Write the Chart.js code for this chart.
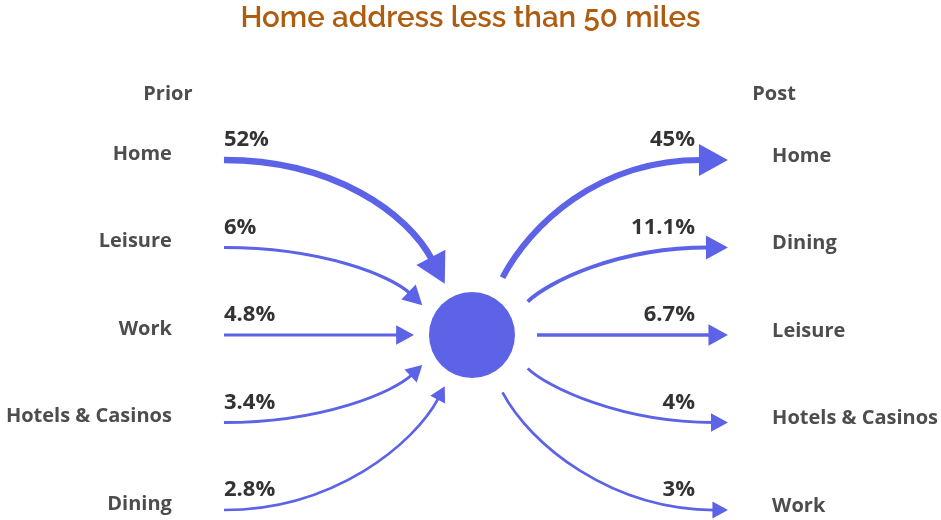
<!DOCTYPE html>
<html>
<head>
<meta charset="utf-8">
<script src="https://cdn.jsdelivr.net/npm/chart.js@4.4.0/dist/chart.umd.min.js"></script>
<style>
  html, body { margin: 0; padding: 0; background: #fff; }
  #wrap { width: 941px; height: 520px; }
</style>
</head>
<body>
<div id="wrap"><canvas id="flowChart"></canvas></div>
<script>
// Dados do gráfico
const chartTitle = 'Home address less than 50 miles';
const sideTitles = ['Prior', 'Post'];
const priorLabels = ['Home', 'Leisure', 'Work', 'Hotels & Casinos', 'Dining'];
const priorValues = [52, 6, 4.8, 3.4, 2.8];
const postLabels = ['Home', 'Dining', 'Leisure', 'Hotels & Casinos', 'Work'];
const postValues = [45, 11.1, 6.7, 4, 3];

const flowColor = '#5c63e6';
const labelColor = '#4d4d4d';
const valueColor = '#333333';

// Posições no eixo x (unidades do gráfico)
const hubX = 0;
const hubRow = 2;
const priorStartX = -1.0;
const postEndX = 1.032;
const labelGapX = 1.21;
const hubRadius = 43;
const tipRadius = 58;   // onde terminam as setas de entrada
const startRadius = 65; // onde começam as setas de saída
const fanStep = 31;     // graus entre as setas

function fmt(v) {
    return v + '%';
}

// direção de chegada/saída um pouco mais inclinada que a posição
function bend(th) {
    if (th === 0) return 0;
    return 0.6 * th + Math.sign(th) * 25 * Math.PI / 180;
}

function arrow(ctx, S, ds, T, de, a, b, value) {
    const lw = 1.5 + 0.7 * Math.sqrt(value);
    const headLen = 10 + 5 * Math.log(value);
    const headW = headLen * 1.1;
    const base = { x: T.x - de.x * headLen, y: T.y - de.y * headLen };
    const p1 = { x: S.x + ds.x * a, y: S.y + ds.y * a };
    const p2 = { x: base.x - de.x * b, y: base.y - de.y * b };
    ctx.save();
    ctx.strokeStyle = flowColor;
    ctx.fillStyle = flowColor;
    ctx.lineWidth = lw;
    ctx.lineCap = 'butt';
    ctx.beginPath();
    ctx.moveTo(S.x, S.y);
    ctx.bezierCurveTo(p1.x, p1.y, p2.x, p2.y, base.x + de.x * 2, base.y + de.y * 2);
    ctx.stroke();
    // ponta da seta
    const nx = -de.y, ny = de.x;
    ctx.beginPath();
    ctx.moveTo(T.x, T.y);
    ctx.lineTo(base.x + nx * headW / 2, base.y + ny * headW / 2);
    ctx.lineTo(base.x - nx * headW / 2, base.y - ny * headW / 2);
    ctx.closePath();
    ctx.fill();
    ctx.restore();
}

const flowPlugin = {
    id: 'flowArrows',
    afterDatasetsDraw(chart) {
        const ctx = chart.ctx;
        const xs = chart.scales.x;
        const ys = chart.scales.y;
        const hub = { x: xs.getPixelForValue(hubX), y: ys.getPixelForValue(hubRow) };
        const rowH = Math.abs(ys.getPixelForValue(1) - ys.getPixelForValue(0));

        // cabeçalhos
        ctx.save();
        ctx.font = 'bold 20px "Open Sans"';
        ctx.fillStyle = labelColor;
        ctx.textAlign = 'center';
        ctx.textBaseline = 'middle';
        ctx.fillText(sideTitles[0], xs.getPixelForValue(-labelGapX) - 4, ys.getPixelForValue(-0.75));
        ctx.fillText(sideTitles[1], xs.getPixelForValue(labelGapX) + 2, ys.getPixelForValue(-0.75));
        ctx.restore();

        // setas de entrada (Prior)
        priorValues.forEach((v, i) => {
            const th = (hubRow - i) * fanStep * Math.PI / 180;
            const S = { x: xs.getPixelForValue(priorStartX), y: ys.getPixelForValue(i) };
            const T = { x: hub.x - tipRadius * Math.cos(th), y: hub.y - tipRadius * Math.sin(th) };
            const ar = bend(th);
            const de = { x: Math.cos(ar), y: Math.sin(ar) };
            const dx = T.x - S.x, dy = Math.abs(T.y - S.y);
            arrow(ctx, S, { x: 1, y: 0 }, T, de, dx * 0.5, dy * 0.4, v);

            ctx.save();
            ctx.font = 'bold 20px "Open Sans"';
            ctx.fillStyle = labelColor;
            ctx.textAlign = 'right';
            ctx.textBaseline = 'middle';
            ctx.fillText(priorLabels[i], xs.getPixelForValue(-labelGapX), S.y - 6);
            ctx.font = 'bold 22px "Open Sans"';
            ctx.fillStyle = valueColor;
            ctx.textAlign = 'left';
            ctx.fillText(fmt(v), S.x, S.y - rowH * 0.23);
            ctx.restore();
        });

        // setas de saída (Post)
        postValues.forEach((v, i) => {
            const th = (hubRow - i) * fanStep * Math.PI / 180;
            const ar = bend(th);
            const ds = { x: Math.cos(ar), y: -Math.sin(ar) };
            const S = { x: hub.x + startRadius * Math.cos(th), y: hub.y - startRadius * Math.sin(th) };
            const T = { x: xs.getPixelForValue(postEndX), y: ys.getPixelForValue(i) };
            const dx = T.x - S.x, dy = Math.abs(T.y - S.y);
            arrow(ctx, S, ds, T, { x: 1, y: 0 }, dy * 0.5, dx * 0.45, v);

            ctx.save();
            ctx.font = 'bold 20px "Open Sans"';
            ctx.fillStyle = labelColor;
            ctx.textAlign = 'left';
            ctx.textBaseline = 'middle';
            ctx.fillText(postLabels[i], xs.getPixelForValue(labelGapX), T.y - 4);
            ctx.font = 'bold 22px "Open Sans"';
            ctx.fillStyle = valueColor;
            ctx.textAlign = 'right';
            ctx.fillText(fmt(v), T.x - 33, T.y - rowH * 0.23);
            ctx.restore();
        });
    }
};

const chart = new Chart(document.getElementById('flowChart'), {
    type: 'scatter',
    data: {
        datasets: [{
            data: [{ x: hubX, y: hubRow }],
            backgroundColor: flowColor,
            borderWidth: 0,
            pointRadius: hubRadius,
            pointHoverRadius: hubRadius
        }]
    },
    options: {
        responsive: true,
        maintainAspectRatio: false,
        animation: false,
        layout: { padding: 0, autoPadding: false },
        scales: {
            x: { type: 'linear', display: false, min: -1.903, max: 1.891 },
            y: { type: 'linear', display: false, reverse: true, min: -1.417, max: 4.114 }
        },
        plugins: {
            legend: { display: false },
            tooltip: { enabled: false },
            title: {
                display: true,
                text: chartTitle,
                color: '#b05c0e',
                font: { family: 'Raleway, Lato, sans-serif', size: 29.5, weight: '600' },
                padding: { top: 0, bottom: 0.6 }
            }
        }
    },
    plugins: [flowPlugin]
});
</script>
</body>
</html>
